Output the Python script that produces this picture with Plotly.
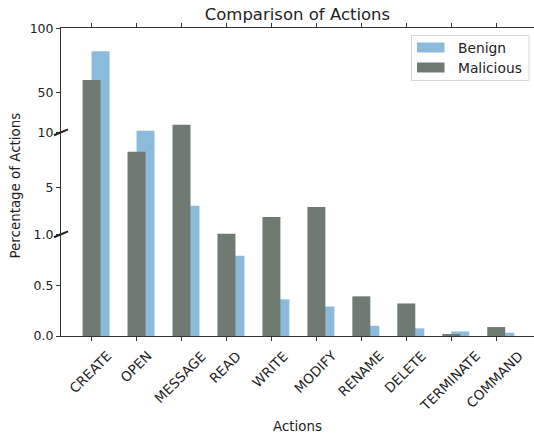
import numpy as np
import plotly.graph_objects as go

# ---- data (percent of actions) ----
actions = ["CREATE", "OPEN", "MESSAGE", "READ", "WRITE", "MODIFY",
           "RENAME", "DELETE", "TERMINATE", "COMMAND"]
benign = [82.0, 11.5, 3.45, 0.79, 0.36, 0.29, 0.10, 0.075, 0.045, 0.032]
malicious = [59.6, 8.25, 17.6, 1.05, 2.48, 3.35, 0.39, 0.32, 0.02, 0.088]

# ---- broken y-axis scale (value -> display position) ----
scale_values = [0, 1, 5, 10, 50, 100]
scale_positions = [0, 1, 1.458, 2.003, 2.396, 3.026]
tick_values = [0.0, 0.5, 1.0, 5, 10, 50, 100]
tick_labels = ["0.0", "0.5", "1.0", "5", "10", "50", "100"]
break_values = [1.0, 10]


def to_display(v):
    return np.interp(np.asarray(v, dtype=float), scale_values, scale_positions)


x = np.arange(len(actions))
BENIGN_C = "#8bbadb"
MAL_C = "#6f7a73"
FONT = "DejaVu Sans"
TXT = "#222"

# plot area in pixels
W, H = 534, 439
L, R, T, B = 61, 0, 28, 103
PW, PH = W - L - R, H - T - B


def px_x(p):
    return (p - L) / PW


def px_y(p):
    return 1 - (p - T) / PH


fig = go.Figure()
fig.add_trace(go.Bar(
    x=x + 0.2, y=to_display(benign), width=0.4, name="Benign",
    marker=dict(color=BENIGN_C, line=dict(width=0)),
    customdata=benign, hovertemplate="%{customdata}<extra>Benign</extra>"))
fig.add_trace(go.Bar(
    x=x, y=to_display(malicious), width=0.4, name="Malicious",
    marker=dict(color=MAL_C, line=dict(width=0)),
    customdata=malicious, hovertemplate="%{customdata}<extra>Malicious</extra>"))

shapes = []
annotations = []
# break marks on the left spine
for bv in break_values:
    yd = float(to_display(bv))
    shapes.append(dict(type="line", xref="paper", yref="y",
                       x0=px_x(54), x1=px_x(68), y0=yd - 0.029, y1=yd + 0.029,
                       line=dict(color=TXT, width=2)))

# legend box drawn like matplotlib's
shapes.append(dict(type="rect", xref="paper", yref="paper",
                   x0=px_x(411.5), x1=px_x(529), y0=px_y(80.5), y1=px_y(35.5),
                   line=dict(color="#d5d5d5", width=1), fillcolor="rgba(255,255,255,0.8)",
                   layer="above"))
for name, color, cy in [("Benign", BENIGN_C, 47.5), ("Malicious", MAL_C, 67.5)]:
    shapes.append(dict(type="rect", xref="paper", yref="paper",
                       x0=px_x(417), x1=px_x(444.5), y0=px_y(cy + 5), y1=px_y(cy - 5),
                       line=dict(width=0), fillcolor=color, layer="above"))
    annotations.append(dict(text=name, xref="paper", yref="paper",
                            x=px_x(456), y=px_y(cy), xanchor="left", yanchor="middle",
                            showarrow=False, font=dict(size=13.8, color=TXT)))

# rotated category labels, centred under each tick (matplotlib style)
for xi, lab in zip(x, actions):
    annotations.append(dict(text=lab, xref="x", yref="paper", x=float(xi) - 0.03,
                            y=px_y(345), xanchor="center", yanchor="top",
                            textangle=-45, showarrow=False,
                            font=dict(size=13.5, color=TXT)))

# axis titles
annotations.append(dict(text="Actions", xref="paper", yref="paper",
                        x=px_x(297), y=px_y(426.5), xanchor="center", yanchor="middle",
                        showarrow=False, font=dict(size=13.4, color=TXT)))
annotations.append(dict(text="Percentage of Actions", xref="paper", yref="paper",
                        x=px_x(14.5), y=px_y(186), xanchor="center", yanchor="middle",
                        textangle=-90, showarrow=False, font=dict(size=13.4, color=TXT)))

fig.update_layout(
    width=W, height=H,
    margin=dict(l=L, r=R, t=T, b=B),
    paper_bgcolor="white", plot_bgcolor="white",
    barmode="overlay",
    font=dict(family=FONT, size=12.5, color=TXT),
    title=dict(text="Comparison of Actions", x=0.557, xanchor="center",
               y=1 - 14 / H, yanchor="middle", font=dict(size=16.5, color=TXT)),
    showlegend=False,
    shapes=shapes,
    annotations=annotations,
)
fig.update_xaxes(
    range=[-0.68, 9.84], tickvals=list(x), showticklabels=False,
    showline=True, linecolor="#333", linewidth=1, mirror="ticks",
    ticks="outside", ticklen=4, tickcolor="#333", showgrid=False, zeroline=False,
    automargin=False,
)
fig.update_yaxes(
    range=[0, 3.028], tickvals=list(to_display(tick_values)), ticktext=tick_labels,
    showline=True, linecolor="#333", linewidth=1,
    ticks="outside", ticklen=4, tickcolor="#333", showgrid=False, zeroline=False,
    automargin=False,
)

fig.write_html("out.html", config={"displayModeBar": False},
               post_script="document.body.style.margin='0';")
